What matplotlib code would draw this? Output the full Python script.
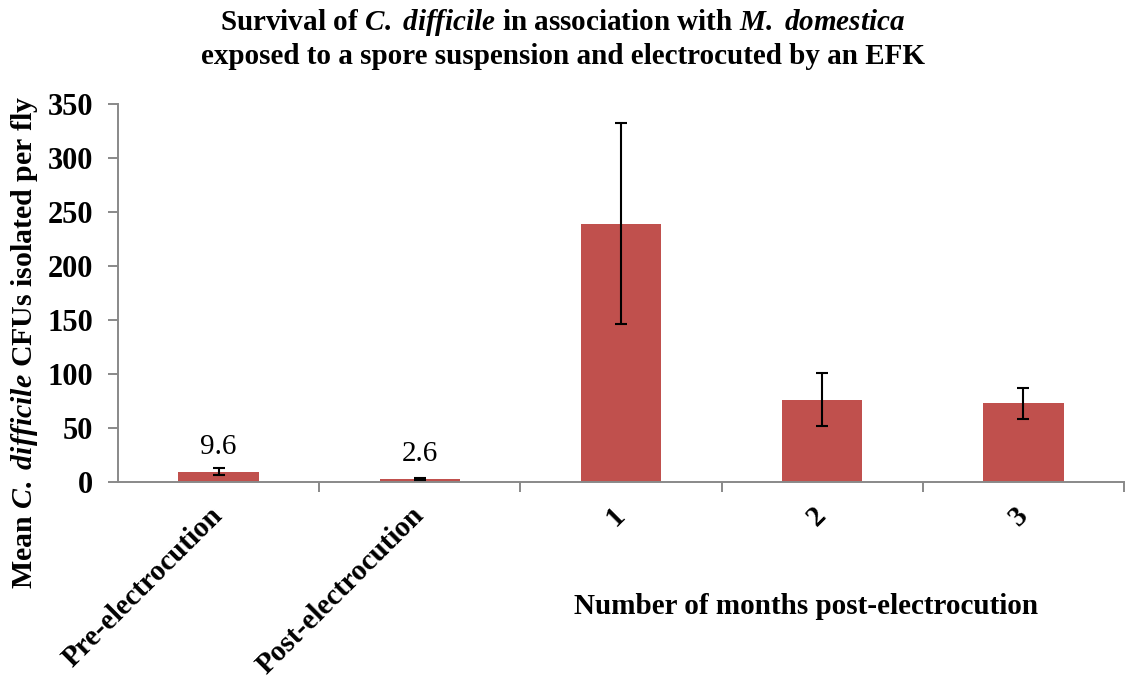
import matplotlib
matplotlib.use("Agg")
import matplotlib.pyplot as plt
import numpy as np

categories = ["Pre-electrocution", "Post-electrocution", "1", "2", "3"]
means = [9.6, 2.6, 239, 76, 73]
errors = [3.1, 0.9, 93, 24.5, 14.5]
value_labels = ["9.6", "2.6", None, None, None]
yticks = [0, 50, 100, 150, 200, 250, 300, 350]

plt.rcParams['font.family'] = ['Liberation Serif']
plt.rcParams['mathtext.fontset'] = 'custom'
plt.rcParams['mathtext.rm'] = 'Liberation Serif:bold'
plt.rcParams['mathtext.it'] = 'Liberation Serif:italic:bold'
plt.rcParams['mathtext.bf'] = 'Liberation Serif:bold'

fig = plt.figure(figsize=(11.25, 6.79), dpi=100)
ax = fig.add_axes([118/1125, 1-482/679, (1124-118)/1125, (482-104)/679])

x = np.arange(len(categories))
bar_color = "#C0504D"
ax.bar(x, means, width=0.4, color=bar_color, zorder=2)
ax.errorbar(x, means, yerr=errors, fmt='none', ecolor='black', elinewidth=1.5,
            capsize=4.5, capthick=1.5, zorder=3)

for xi, m, e, lab in zip(x, means, errors, value_labels):
    if lab:
        ax.annotate(lab, (xi, m), xytext=(0, 13), textcoords='offset points',
                    ha='center', va='baseline', fontsize=21, fontweight='normal')

ax.set_xlim(-0.5, len(categories) - 0.5)
ax.set_ylim(0, 350)
ax.set_yticks(yticks)
ax.set_yticklabels([str(t) for t in yticks], fontsize=22, fontweight='bold')

ax.set_xticks(x)
ax.set_xticklabels(categories, rotation=45, ha='right', va='center',
                   rotation_mode='anchor', fontsize=21, fontweight='bold')
ax.tick_params(axis='x', length=0, pad=21)
ax.set_xticks(np.arange(-0.5, len(categories), 1.0)[1:], minor=True)
ax.tick_params(axis='x', which='minor', length=7, width=1.4, color='#898989', direction='out')
ax.tick_params(axis='y', length=7, width=1.4, color='#898989', direction='out', pad=11)

spine_col = '#898989'
for s in ['top', 'right']:
    ax.spines[s].set_visible(False)
for s in ['left', 'bottom']:
    ax.spines[s].set_color(spine_col)
    ax.spines[s].set_linewidth(1.4)

fig.text(25/1125, 1-342/679, r"Mean $C.$ $difficile$ CFUs isolated per fly",
         rotation=90, ha='center', va='center', fontsize=21.5, fontweight='bold')
fig.text(806/1125, 1-607/679, "Number of months post-electrocution",
         ha='center', va='center', fontsize=21, fontweight='bold')
fig.text(563/1125, 1-23/679,
         r"Survival of $C.$ $difficile$ in association with $M.$ $domestica$",
         ha='center', va='center', fontsize=21, fontweight='bold')
fig.text(563/1125, 1-56/679,
         "exposed to a spore suspension and electrocuted by an EFK",
         ha='center', va='center', fontsize=21, fontweight='bold')

fig.savefig("out.png", dpi=100)
